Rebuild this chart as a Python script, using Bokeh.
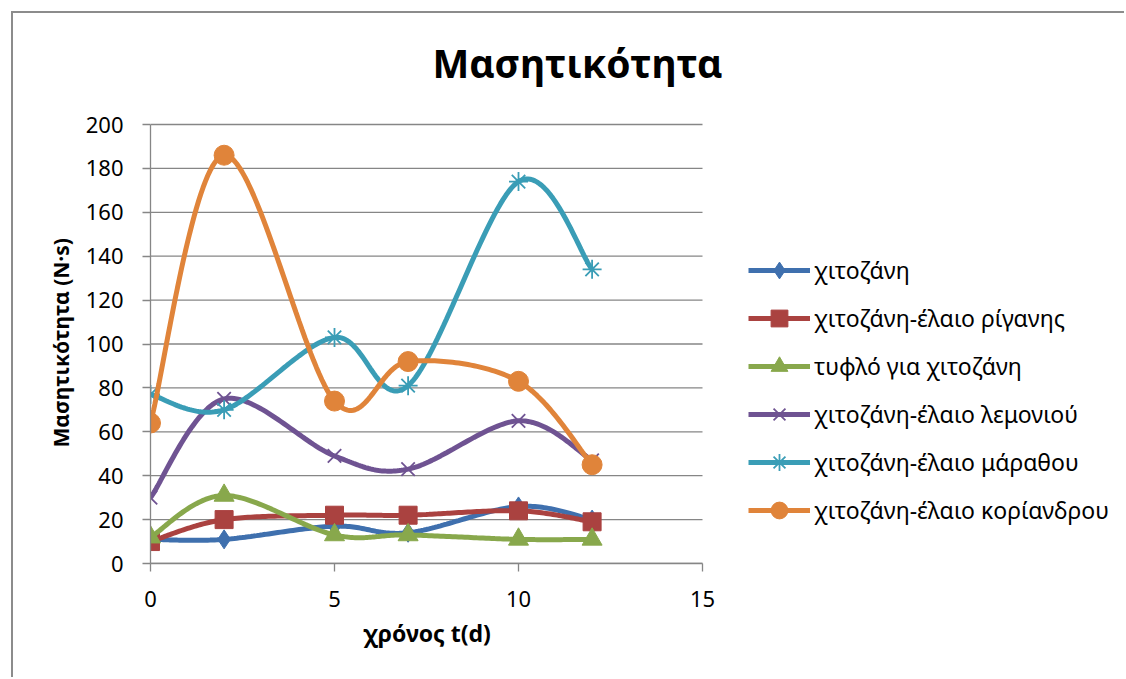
import numpy as np
from bokeh.plotting import figure
from bokeh.models import (Legend, LegendItem, FixedTicker, Label, Title, Range1d,
                          ColumnDataSource)
from bokeh.embed import file_html
from bokeh.resources import INLINE

# Storage time (days)
days = [0, 2, 5, 7, 10, 12]

# Chewiness (N·s) per coating
chitosan = [11, 11, 17, 14, 26, 20]
oregano = [10, 20, 22, 22, 24, 19]
blank = [12, 31, 13, 13, 11, 11]
lemon = [30, 75, 49, 43, 65, 47]
fennel = [77, 70, 103, 81, 174, 134]
coriander = [64, 186, 74, 92, 83, 45]

series_names = [
    "χιτοζάνη",
    "χιτοζάνη-έλαιο ρίγανης",
    "τυφλό για χιτοζάνη",
    "χιτοζάνη-έλαιο λεμονιού",
    "χιτοζάνη-έλαιο μάραθου",
    "χιτοζάνη-έλαιο κορίανδρου",
]
series_values = [chitosan, oregano, blank, lemon, fennel, coriander]
colors = ["#3F70AE", "#AA4240", "#88A84C", "#6F5392", "#3A9DB6", "#E0843A"]
markers = ["diamond", "square", "triangle", "x", "asterisk", "circle"]
marker_sizes = [19, 18, 20, 19, 19, 20]

x_ticks = [0, 5, 10, 15]
y_ticks = list(range(0, 201, 20))
x_max, y_max = 15, 200


def smooth(xs, ys, n=40):
    """Bezier-smoothed curve through the points (Catmull-Rom tangents)."""
    pts = np.column_stack([xs, ys]).astype(float)
    ext = np.vstack([pts[0], pts, pts[-1]])
    out = []
    for i in range(1, len(ext) - 2):
        p0, p1, p2, p3 = ext[i - 1], ext[i], ext[i + 1], ext[i + 2]
        c1 = p1 + (p2 - p0) / 6.0
        c2 = p2 - (p3 - p1) / 6.0
        t = np.linspace(0, 1, n)[:, None]
        seg = ((1 - t) ** 3) * p1 + 3 * ((1 - t) ** 2) * t * c1 + 3 * (1 - t) * t ** 2 * c2 + t ** 3 * p2
        out.append(seg if i == 1 else seg[1:])
    cur = np.vstack(out)
    return cur[:, 0], cur[:, 1]


FONT = "Noto Sans"

# Page geometry (px): outer chart area starts after an 11px margin + 2px border
ORIGIN = 13
W, H = 1126 - ORIGIN, 679 - ORIGIN
AX_LEFT, AX_RIGHT, AX_TOP, AX_BOTTOM = 150, 702, 124, 563

# The frame spans the whole chart area to the right and top, so the
# title and legend can sit inside it; the axes are bounded to the data box.
x_end = x_max * (1126 - AX_LEFT) / (AX_RIGHT - AX_LEFT)
y_end = y_max * (AX_BOTTOM - ORIGIN) / (AX_BOTTOM - AX_TOP)

p = figure(
    width=W, height=H,
    x_range=Range1d(0, x_end), y_range=Range1d(0, y_end),
    output_backend="svg", toolbar_location=None,
    min_border_left=AX_LEFT - ORIGIN, min_border_right=0,
    min_border_top=0, min_border_bottom=679 - AX_BOTTOM,
)
p.margin = (11, 0, 0, 11)
p.styles = {"border-top": "2px solid #8c8c8c", "border-left": "2px solid #8c8c8c"}
p.background_fill_color = "white"
p.border_fill_color = "white"
p.outline_line_color = None

# axes
p.xaxis.ticker = FixedTicker(ticks=x_ticks)
p.yaxis.ticker = FixedTicker(ticks=y_ticks)
p.xaxis.bounds = (0, x_max)
p.yaxis.bounds = (0, y_max)
for ax in (p.xaxis[0], p.yaxis[0]):
    ax.axis_line_color = "#868686"
    ax.axis_line_width = 1.3
    ax.major_tick_line_color = "#868686"
    ax.major_tick_line_width = 1.3
    ax.major_tick_out = 8
    ax.major_tick_in = 0
    ax.minor_tick_line_color = None
    ax.major_label_text_font = FONT
    ax.major_label_text_font_size = "22px"
    ax.major_label_text_color = "black"
p.xaxis.major_label_standoff = 19
p.yaxis.major_label_standoff = 19

# axis titles, positioned along the bounded axes
x_title = Title(text="χρόνος t(d)", align="left", offset=363 - AX_LEFT, standoff=10,
                text_font=FONT, text_font_size="23px", text_font_style="bold",
                text_color="black")
p.add_layout(x_title, "below")
y_title = Title(text="Μασητικότητα (N·s)", align="left", offset=AX_BOTTOM - 447, standoff=16,
                text_font=FONT, text_font_size="21px", text_font_style="bold",
                text_color="black")
p.add_layout(y_title, "left")

# horizontal gridlines limited to the data box
p.xgrid.grid_line_color = None
p.ygrid.grid_line_color = None
grid_src = ColumnDataSource(dict(x0=[0] * len(y_ticks), x1=[x_max] * len(y_ticks),
                                 y=y_ticks))
p.segment(x0="x0", x1="x1", y0="y", y1="y", source=grid_src,
          line_color="#868686", line_width=1.3, level="underlay")

items = []
for name, vals, col, mk, ms in zip(series_names, series_values, colors, markers, marker_sizes):
    sx, sy = smooth(days, vals)
    ln = p.line(sx, sy, line_color=col, line_width=5)
    if mk in ("x", "asterisk"):
        sc = p.scatter(days, vals, marker=mk, size=ms, line_color=col, line_width=1.8,
                       fill_color=col)
    else:
        sc = p.scatter(days, vals, marker=mk, size=ms, line_color=col, line_width=1,
                       fill_color=col)
    items.append(LegendItem(label=name, renderers=[ln, sc]))

legend = Legend(items=items, location=(598, 32))
legend.background_fill_alpha = 0
legend.border_line_color = None
legend.label_text_font = FONT
legend.label_text_font_size = "23px"
legend.label_text_color = "black"
legend.glyph_width = 62
legend.glyph_height = 42
legend.label_height = 42
legend.spacing = 6
legend.padding = 0
legend.margin = 0
legend.label_standoff = 4
p.add_layout(legend, "center")

title = Label(x=577 - AX_LEFT, y=AX_BOTTOM - 62, x_units="screen", y_units="screen",
              text="Μασητικότητα", text_align="center", text_baseline="middle",
              text_font=FONT, text_font_size="39px", text_font_style="bold",
              text_color="black")
p.add_layout(title)

open("out.html", "w").write(file_html(p, INLINE))
